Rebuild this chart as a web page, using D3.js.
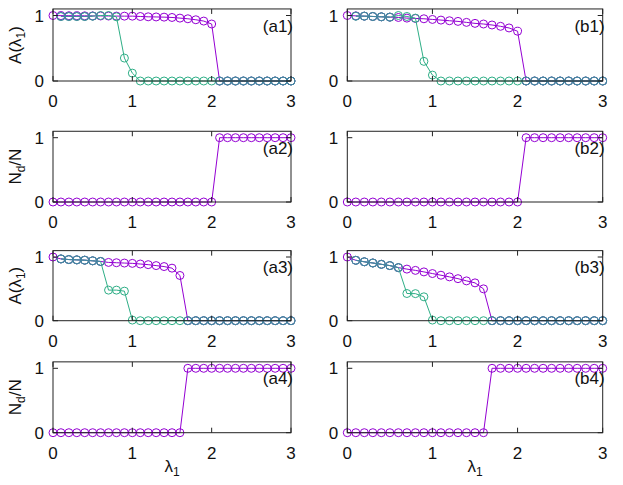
<!DOCTYPE html>
<html><head><meta charset="utf-8">
<script src="https://cdn.jsdelivr.net/npm/d3@7"></script>
<style>body{margin:0;background:#fff}svg{display:block;font-family:"Liberation Sans",Arial,sans-serif}</style>
</head><body>
<svg id="c" width="623" height="485"></svg>
<script>
// ---- data ----
const lambda = [0,0.1,0.2,0.3,0.4,0.5,0.6,0.7,0.8,0.9,1.0,1.1,1.2,1.3,1.4,1.5,1.6,1.7,1.8,1.9,2.0,2.1,2.2,2.3,2.4,2.5,2.6,2.7,2.8,2.9,3.0];
const xTicks = [0,1,2,3];
const yTicks = [0,1];
const _ = null;
const a1Purple = [1.0,0.998,0.997,0.996,0.995,0.994,0.993,0.992,0.991,0.99,0.99,0.985,0.98,0.978,0.975,0.97,0.96,0.95,0.935,0.915,0.87, 0,0,0,0,0,0,0,0,0,0];
const a1Green  = [_,0.985,0.985,0.985,0.985,0.99,1.0,1.0,0.98,0.35,0.12, 0,0,0,0,0,0,0,0,0,0,0,0,0,0,0,0,0,0,0,0];
const a1Blue   = [_,0.985,0.985,0.985,0.985,0.99,_,_,_,_,_,_,_,_,_,_,_,_,_,_,_, 0,0,0,0,0,0,0,0,0,0];
const b1Purple = [1.0,0.995,0.99,0.985,0.98,0.975,0.97,0.96,0.955,0.95,0.94,0.93,0.92,0.91,0.895,0.88,0.87,0.855,0.835,0.81,0.76, 0,0,0,0,0,0,0,0,0,0];
const b1Green  = [_,0.99,0.99,0.985,0.98,0.975,1.0,0.985,0.96,0.30,0.09, 0,0,0,0,0,0,0,0,0,0,0,0,0,0,0,0,0,0,0,0];
const b1Blue   = [_,0.99,0.99,0.985,0.98,0.975,_,_,_,_,_,_,_,_,_,_,_,_,_,_,_, 0,0,0,0,0,0,0,0,0,0];
const a3Purple = [1.0,0.97,0.96,0.955,0.95,0.94,0.93,0.915,0.91,0.905,0.9,0.89,0.88,0.865,0.85,0.825,0.71, 0,0,0,0,0,0,0,0,0,0,0,0,0,0];
const a3Green  = [_,0.97,0.96,0.955,0.95,0.94,0.93,0.48,0.48,0.464,0.01, 0,0,0,0,0,0,0,0,0,0,0,0,0,0,0,0,0,0,0,0];
const a3Blue   = [_,0.97,0.96,0.955,0.95,0.94,0.93,_,_,_,_,_,_,_,_,_,_, 0,0,0,0,0,0,0,0,0,0,0,0,0,0];
const b3Purple = [1.0,0.948,0.925,0.906,0.885,0.865,0.833,0.81,0.79,0.766,0.74,0.714,0.688,0.66,0.625,0.594,0.5, 0,0,0,0,0,0,0,0,0,0,0,0,0,0];
const b3Green  = [_,0.948,0.925,0.906,0.885,0.865,0.833,0.427,0.425,0.375,0.01, 0,0,0,0,0,0,0,0,0,0,0,0,0,0,0,0,0,0,0,0];
const b3Blue   = [_,0.948,0.925,0.906,0.885,0.865,0.833,_,_,_,_,_,_,_,_,_,_, 0,0,0,0,0,0,0,0,0,0,0,0,0,0];
const a2Purple = [0,0,0,0,0,0,0,0,0,0,0,0,0,0,0,0,0,0,0,0,0, 1,1,1,1,1,1,1,1,1,1];
const b2Purple = [0,0,0,0,0,0,0,0,0,0,0,0,0,0,0,0,0,0,0,0,0, 1,1,1,1,1,1,1,1,1,1];
const a4Purple = [0,0,0,0,0,0,0,0,0,0,0,0,0,0,0,0,0, 1,1,1,1,1,1,1,1,1,1,1,1,1,1];
const b4Purple = [0,0,0,0,0,0,0,0,0,0,0,0,0,0,0,0,0, 1,1,1,1,1,1,1,1,1,1,1,1,1,1];
const panelLabels = ["(a1)","(b1)","(a2)","(b2)","(a3)","(b3)","(a4)","(b4)"];

// ---- layout ----
const colors = {purple:"#9400d3", green:"#2eae86", blue:"#4683a3"};
const cols = [[53,291],[347.3,602.7]];
const rows = [{y0:81,unit:65.5},{y0:202,unit:64.3},{y0:320.7,unit:63.7},{y0:432.7,unit:64.4}];
const panels = [
  {r:0,c:0,type:"A",s:[["purple",a1Purple],["green",a1Green],["blue",a1Blue]]},
  {r:0,c:1,type:"A",s:[["purple",b1Purple],["green",b1Green],["blue",b1Blue]]},
  {r:1,c:0,type:"N",s:[["purple",a2Purple]]},
  {r:1,c:1,type:"N",s:[["purple",b2Purple]]},
  {r:2,c:0,type:"A",s:[["purple",a3Purple],["green",a3Green],["blue",a3Blue]]},
  {r:2,c:1,type:"A",s:[["purple",b3Purple],["green",b3Green],["blue",b3Blue]]},
  {r:3,c:0,type:"N",s:[["purple",a4Purple]]},
  {r:3,c:1,type:"N",s:[["purple",b4Purple]]},
];
const svg = d3.select("#c");
const FS = 17;
panels.forEach((p,i)=>{
  const [xl,xr] = cols[p.c];
  const row = rows[p.r];
  const x = d3.scaleLinear().domain([0,3]).range([xl,xr]);
  const y = d3.scaleLinear().domain([0,1.1]).range([row.y0,row.y0-1.1*row.unit]);
  const g = svg.append("g");
  const top = y(1.1), bot = y(0);
  p.s.forEach(([col,vals])=>{
    const pts = lambda.map((l,k)=>[l,vals[k]]);
    const line = d3.line().defined(d=>d[1]!==null).x(d=>x(d[0])).y(d=>y(d[1]));
    g.append("path").attr("d",line(pts)).attr("fill","none").attr("stroke",colors[col]).attr("stroke-width",1);
    g.selectAll(null).data(pts.filter(d=>d[1]!==null)).enter().append("circle")
      .attr("cx",d=>x(d[0])).attr("cy",d=>y(d[1])).attr("r",4)
      .attr("fill","none").attr("stroke",colors[col]).attr("stroke-width",1);
  });
  g.append("rect").attr("x",xl).attr("y",top).attr("width",xr-xl).attr("height",bot-top)
    .attr("fill","none").attr("stroke","#222").attr("stroke-width",1);
  xTicks.forEach(t=>{
    g.append("line").attr("x1",x(t)).attr("x2",x(t)).attr("y1",bot).attr("y2",bot-5).attr("stroke","#222");
    g.append("line").attr("x1",x(t)).attr("x2",x(t)).attr("y1",top).attr("y2",top+5).attr("stroke","#222");
    g.append("text").attr("x",x(t)).attr("y",bot+26).attr("text-anchor","middle").attr("font-size",FS).attr("fill","#111").text(t);
  });
  yTicks.forEach(t=>{
    g.append("line").attr("x1",xl).attr("x2",xl+5).attr("y1",y(t)).attr("y2",y(t)).attr("stroke","#222");
    g.append("line").attr("x1",xr).attr("x2",xr-5).attr("y1",y(t)).attr("y2",y(t)).attr("stroke","#222");
    g.append("text").attr("x",xl-9).attr("y",y(t)+6).attr("text-anchor","end").attr("font-size",FS).attr("fill","#111").text(t);
  });
  g.append("text").attr("x",xr+2).attr("y",y(1)+16).attr("text-anchor","end").attr("font-size",FS).attr("fill","#111").text(panelLabels[i]);
  if(p.c===0){
    const cy = (top+bot)/2;
    const t = g.append("text").attr("transform",`translate(21,${cy}) rotate(-90)`).attr("text-anchor","middle").attr("font-size",FS).attr("fill","#111");
    if(p.type==="A"){
      t.append("tspan").text("A(λ");
      t.append("tspan").attr("font-size",12).attr("dy",4).text("1");
      t.append("tspan").attr("dy",-4).text(")");
    } else {
      t.append("tspan").text("N");
      t.append("tspan").attr("font-size",12).attr("dy",4).text("d");
      t.append("tspan").attr("dy",-4).text("/N");
    }
  }
  if(p.r===3){
    const t = g.append("text").attr("x",(xl+xr)/2).attr("y",472).attr("text-anchor","middle").attr("font-size",FS).attr("fill","#111");
    t.append("tspan").text("λ");
    t.append("tspan").attr("font-size",12).attr("dy",4).text("1");
  }
});
</script>
</body></html>
